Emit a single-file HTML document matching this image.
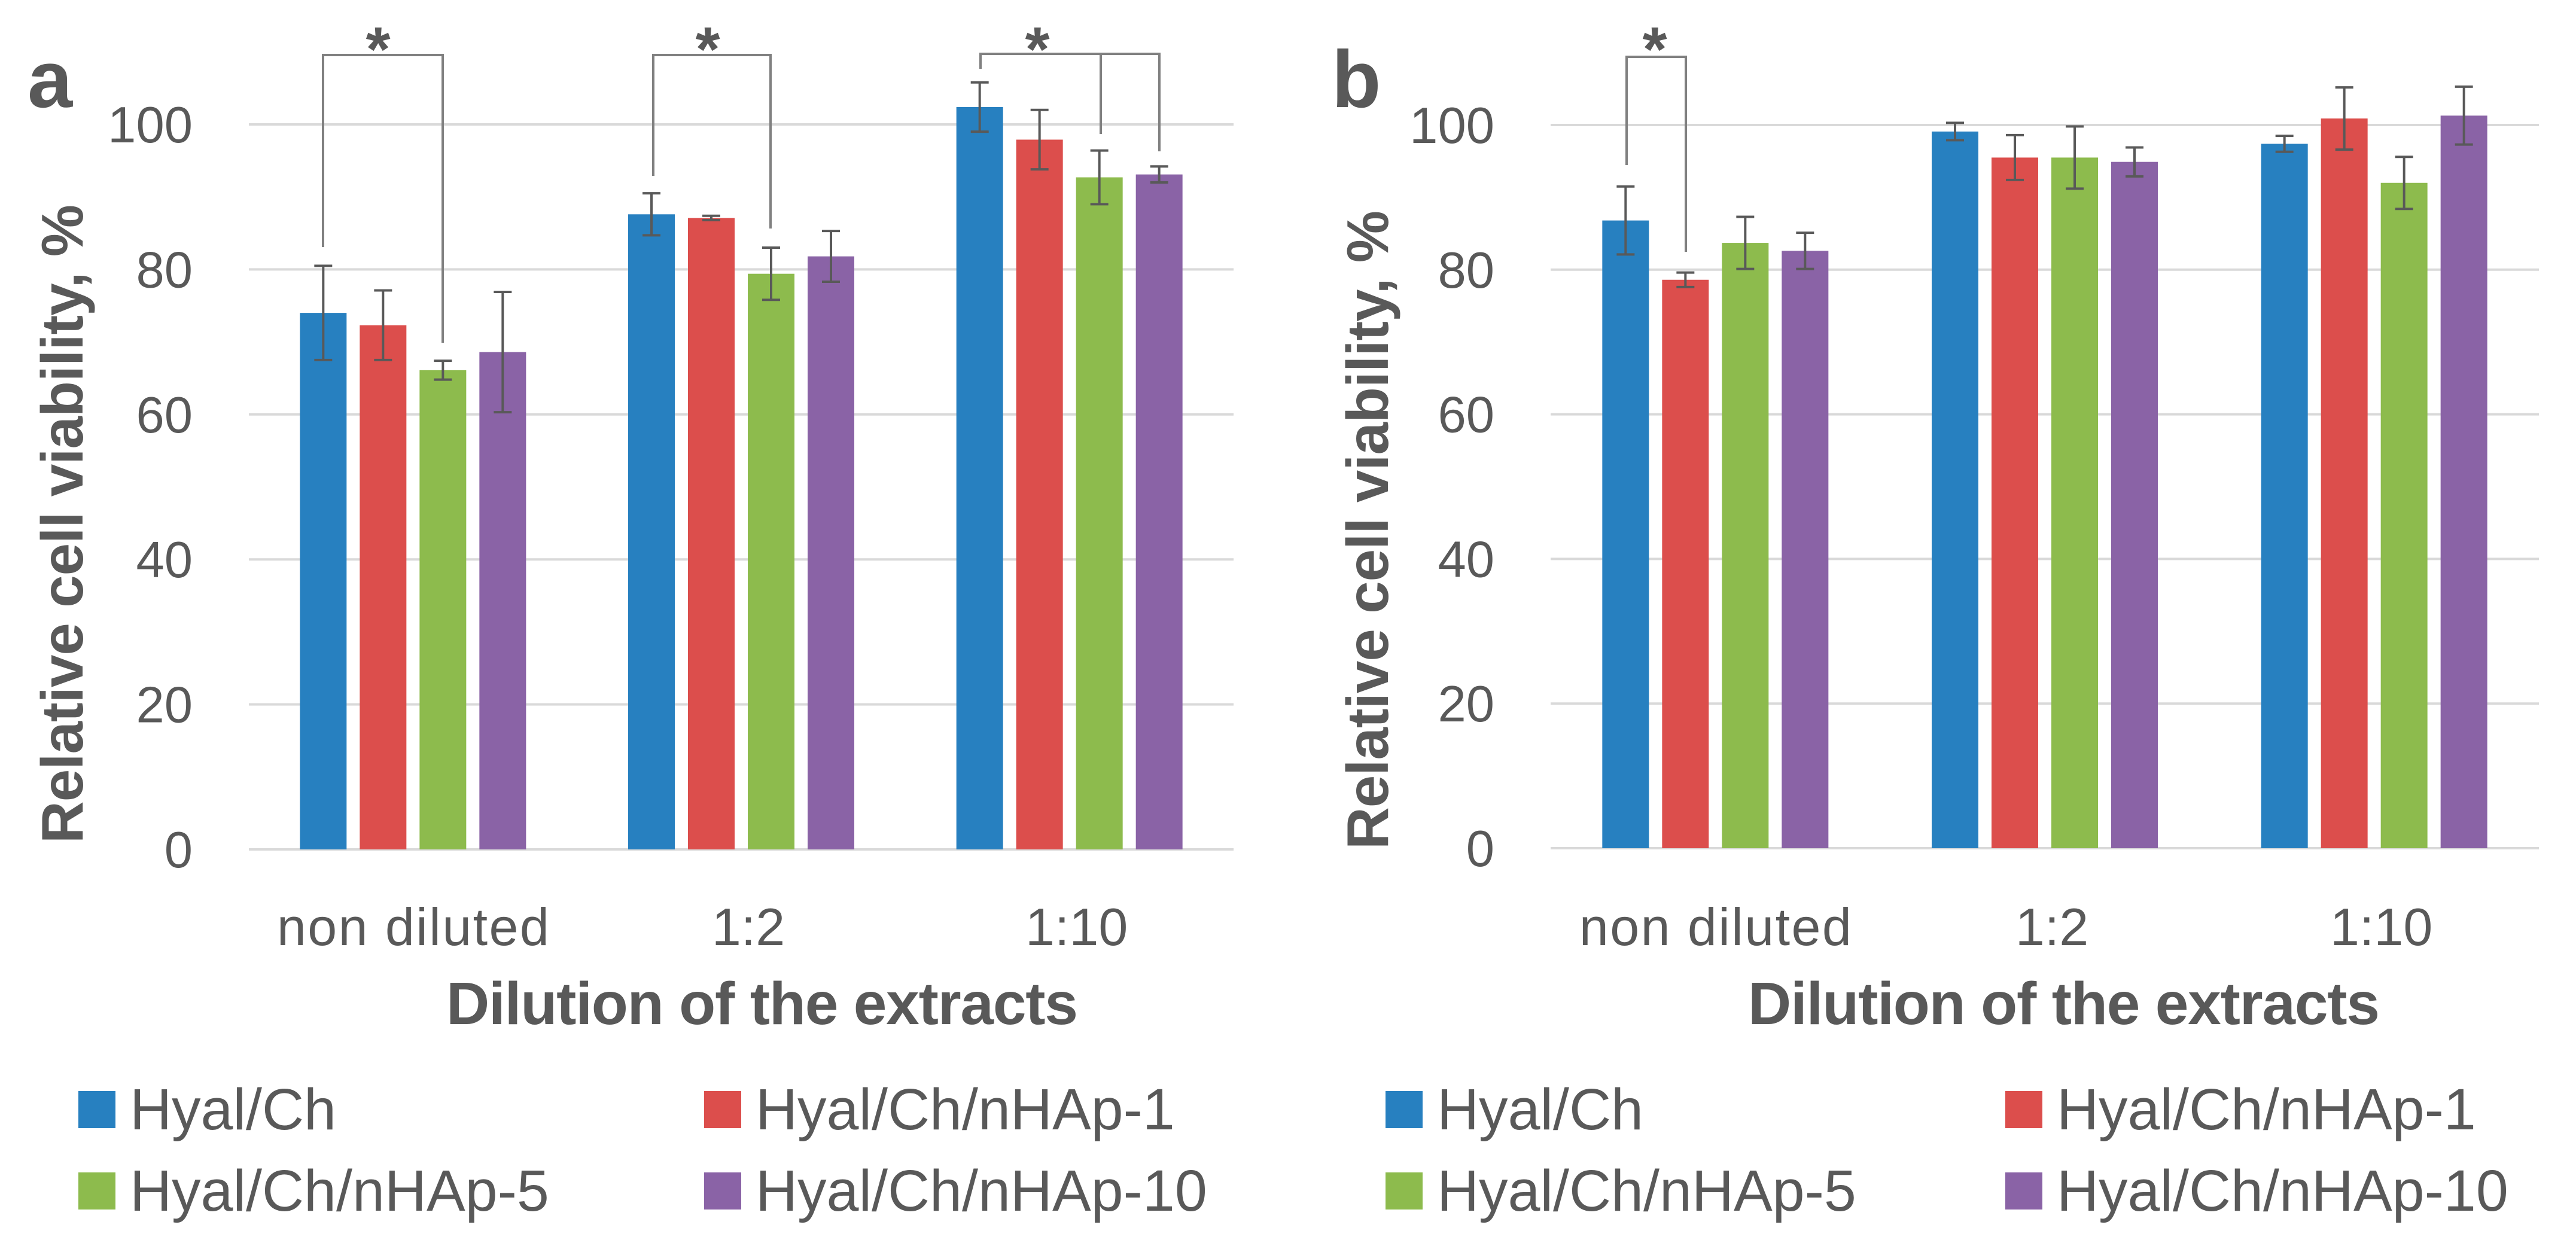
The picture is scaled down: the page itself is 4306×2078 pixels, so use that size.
<!DOCTYPE html>
<html><head><meta charset="utf-8"><style>
html,body{margin:0;padding:0;background:#fff;}
svg{display:block;}
text{font-family:"Liberation Sans",sans-serif;fill:#595959;}
</style></head><body>
<svg id="chart" width="4306" height="2078" viewBox="0 0 4306 2078" xmlns="http://www.w3.org/2000/svg"></svg>
<script>
const categories = ["non diluted", "1:2", "1:10"];
const seriesNames = ["Hyal/Ch", "Hyal/Ch/nHAp-1", "Hyal/Ch/nHAp-5", "Hyal/Ch/nHAp-10"];
const yTicks = [0, 20, 40, 60, 80, 100];
const aHyal = [74, 87.6, 102.4];
const aN1 = [72.3, 87.1, 97.9];
const aN5 = [66.1, 79.4, 92.7];
const aN10 = [68.6, 81.8, 93.1];
const aHyalErr = [6.5, 2.9, 3.4];
const aN1Err = [4.8, 0.3, 4.1];
const aN5Err = [1.3, 3.6, 3.7];
const aN10Err = [8.3, 3.5, 1.1];
const bHyal = [86.8, 99.1, 97.4];
const bN1 = [78.6, 95.5, 100.9];
const bN5 = [83.7, 95.5, 92.0];
const bN10 = [82.6, 94.9, 101.3];
const bHyalErr = [4.7, 1.2, 1.1];
const bN1Err = [1.0, 3.1, 4.3];
const bN5Err = [3.6, 4.3, 3.6];
const bN10Err = [2.5, 2.0, 4.0];

const colors = ["#2780c0", "#dc4e4c", "#8dbb4d", "#8a63a6"];
const NS = "http://www.w3.org/2000/svg";
const svg = document.getElementById("chart");
function mk(tag, attrs, parent) {
  const e = document.createElementNS(NS, tag);
  for (const k in attrs) e.setAttribute(k, attrs[k]);
  (parent || svg).appendChild(e);
  return e;
}

function panel(cfg, vals, errs) {
  const g = mk("g", {});
  
  
  const y = v => cfg.y0 - (v / 100) * (cfg.y0 - cfg.y100);
  const catW = (cfg.x1 - cfg.x0) / categories.length;
  const cx = i => cfg.x0 + catW * (i + 0.5);
  const barW = 78, step = 100;
  yTicks.forEach(t => {
    const l = mk("line", {x1: cfg.x0, x2: cfg.x1, y1: y(t), y2: y(t), stroke: "#d9d9d9", "stroke-width": 4}, g);
    
    
    const tx = mk("text", {x: cfg.tickX, y: y(t) + 30, "text-anchor": "end", "font-size": 85}, g);
    tx.textContent = t;
    
    
  });
  categories.forEach((c, i) => {
    vals.forEach((s, k) => {
      const bx = cx(i) + (k - 1.5) * step - barW / 2;
      const r = mk("rect", {x: bx, y: y(s[i]), width: barW, height: y(0) - y(s[i]), fill: colors[k]}, g);
      
      
      const e = errs[k][i], mx = bx + barW / 2;
      const eg = mk("g", {stroke: "#595959", "stroke-width": 4}, g);
      
      
      mk("line", {x1: mx, x2: mx, y1: y(s[i] + e), y2: y(s[i] - e)}, eg);
      mk("line", {x1: mx - 15, x2: mx + 15, y1: y(s[i] + e), y2: y(s[i] + e)}, eg);
      mk("line", {x1: mx - 15, x2: mx + 15, y1: y(s[i] - e), y2: y(s[i] - e)}, eg);
    });
    const lab = mk("text", {x: cx(i) + (i === 0 ? 0 : 12), y: 1580, "text-anchor": "middle", "font-size": 88}, g);
    lab.textContent = c;
    if (i === 0) lab.setAttribute("textLength", 455);
    
    
  });
  cfg.brackets.forEach(b => {
    const bg = mk("g", {stroke: "#808080", "stroke-width": 4, fill: "none"}, g);
    
    
    mk("polyline", {points: b.legs.map(p => p[0] + "," + p[1]).join(" ")}, bg);
    b.extra.forEach(p => mk("line", {x1: p[0], x2: p[0], y1: b.top, y2: p[1]}, bg));
    const st = mk("text", {x: b.star, y: 118, "text-anchor": "middle", "font-size": 105, "font-weight": "bold"}, g);
    st.textContent = "*";
    
    
  });
  const letter = mk("text", {x: cfg.letterX, y: 179, "font-size": 135, "font-weight": "bold"}, g);
  letter.textContent = cfg.letter;
  
  
  const yt = mk("text", {x: 0, y: 0, "text-anchor": "middle", "font-size": 98, "font-weight": "bold", transform: "translate(" + cfg.yTitleX + "," + cfg.yTitleY + ") rotate(-90)", textLength: 1068}, g);
  yt.textContent = "Relative cell viability, %";
  
  
  const xt = mk("text", {x: cfg.xTitleX, y: 1712, "font-size": 100, "font-weight": "bold", textLength: 1056}, g);
  xt.textContent = "Dilution of the extracts";
  
  
  seriesNames.forEach((n, k) => {
    const lx = k % 2 === 0 ? cfg.legX0 : cfg.legX1;
    const ly = k < 2 ? 1888 : 2024;
    const lg = mk("g", {}, g);
    
    
    mk("rect", {x: lx, y: ly - 64, width: 62, height: 62, fill: colors[k]}, lg);
    const t = mk("text", {x: lx + 86, y: ly, "font-size": 97}, lg);
    t.textContent = n;
  });
}

panel({letter: "a", x0: 416, x1: 2062, y0: 1420, y100: 208, tickX: 322, letterX: 46,
  yTitleX: 138, yTitleY: 876, xTitleX: 746, legX0: 131, legX1: 1177,
  brackets: [
    {top: 92, legs: [[540, 413], [540, 92], [740, 92], [740, 573]], extra: [], star: 632},
    {top: 92, legs: [[1092, 294], [1092, 92], [1288, 92], [1288, 382]], extra: [], star: 1183},
    {top: 90, legs: [[1639, 115], [1639, 90], [1938, 90], [1938, 253]], extra: [[1840, 224]], star: 1734}
  ]},
  [aHyal, aN1, aN5, aN10], [aHyalErr, aN1Err, aN5Err, aN10Err]);

panel({letter: "b", x0: 2592, x1: 4244, y0: 1418, y100: 209, tickX: 2498, letterX: 2226,
  yTitleX: 2320, yTitleY: 886, xTitleX: 2922, legX0: 2316, legX1: 3352,
  brackets: [
    {top: 95, legs: [[2719, 276], [2719, 95], [2818, 95], [2818, 421]], extra: [], star: 2766}
  ]},
  [bHyal, bN1, bN5, bN10], [bHyalErr, bN1Err, bN5Err, bN10Err]);
</script>
</body></html>
